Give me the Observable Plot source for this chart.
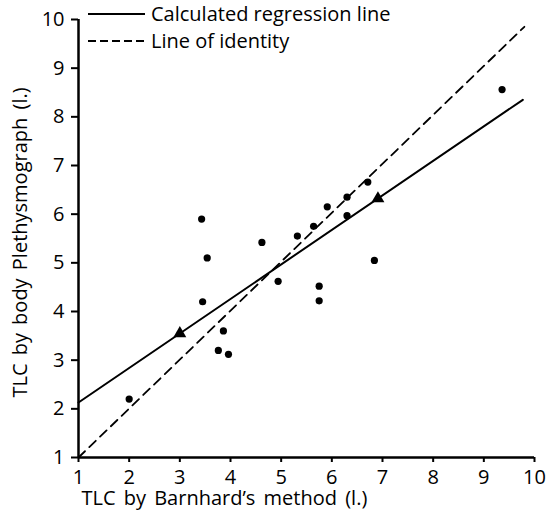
<!DOCTYPE html>
<html><head><meta charset="utf-8">
<script src="https://cdn.jsdelivr.net/npm/d3@7"></script>
<script src="https://cdn.jsdelivr.net/npm/@observablehq/plot@0.6"></script>
<style>
body{margin:0;background:#fff}
#wrap{position:relative;width:556px;height:510px}
#legend{position:absolute;left:0;top:0}
.xl{word-spacing:3px}
.yl{word-spacing:3px}
</style>
</head><body><div id="wrap"></div>
<script>
// Observed points (TLC by Barnhard's method vs. body plethysmograph, litres)
const barnhard = [2.0, 3.43, 3.54, 3.45, 3.86, 3.76, 3.96, 4.62, 4.94, 5.32, 5.64, 5.91, 6.30, 6.30, 6.71, 5.75, 5.75, 6.84, 9.36];
const pleth    = [2.2, 5.90, 5.10, 4.20, 3.60, 3.20, 3.12, 5.42, 4.62, 5.55, 5.75, 6.15, 5.97, 6.35, 6.66, 4.52, 4.22, 5.05, 8.56];
// Triangles on the regression line
const triX = [3.0, 6.91];
const triY = [3.55, 6.32];
// Regression line end points
const regX = [1, 9.77];
const regY = [2.13, 8.35];
// Line of identity end points
const idX = [1, 9.8];
const idY = [1, 9.85];
const xTicks = [1, 2, 3, 4, 5, 6, 7, 8, 9, 10];
const yTicks = [1, 2, 3, 4, 5, 6, 7, 8, 9, 10];
const xLabel = "TLC by Barnhard\u2019s method (l.)";
const yLabel = "TLC by body Plethysmograph (l.)";
const legendLabels = ["Calculated regression line", "Line of identity"];

const pts = barnhard.map((x, i) => ({x, y: pleth[i]}));
const tris = triX.map((x, i) => ({x, y: triY[i]}));
const reg = regX.map((x, i) => ({x, y: regY[i]}));
const ident = idX.map((x, i) => ({x, y: idY[i]}));

const FONT = "'Open Sans', sans-serif";
const chart = Plot.plot({
  width: 556, height: 510,
  marginLeft: 78, marginRight: 22, marginTop: 19, marginBottom: 53,
  x: {domain: [1, 10]},
  y: {domain: [1, 10]},
  style: {fontFamily: FONT, fontSize: "20px", color: "#000", background: "#fff", overflow: "visible"},
  marks: [
    Plot.axisX({ticks: xTicks, tickSize: 5, tickFormat: () => "", label: null, strokeWidth: 2}),
    Plot.text(xTicks, {x: d => d, frameAnchor: "bottom", lineAnchor: "middle", textAnchor: "middle", dy: 20, fontSize: 20, text: d => String(d)}),
    Plot.axisY({ticks: yTicks, tickSize: 7, tickPadding: 7, tickFormat: d => String(d), label: null, strokeWidth: 2, fontSize: 20}),
    Plot.ruleY([1], {stroke: "#000", strokeWidth: 2.5}),
    Plot.ruleX([1], {stroke: "#000", strokeWidth: 2.5}),
    Plot.line(ident, {x: "x", y: "y", stroke: "#000", strokeWidth: 1.8, strokeDasharray: "9,6"}),
    Plot.line(reg, {x: "x", y: "y", stroke: "#000", strokeWidth: 2}),
    Plot.dot(pts, {x: "x", y: "y", r: 3.6, fill: "#000", stroke: "none"}),
    Plot.dot(tris, {x: "x", y: "y", symbol: "triangle", r: 4.8, fill: "#000", stroke: "none"}),
    Plot.text([xLabel], {frameAnchor: "bottom-left", textAnchor: "start", lineAnchor: "middle", dx: 3, dy: 41, fontSize: 20, className: "xl"}),
    Plot.text([yLabel], {frameAnchor: "left", textAnchor: "middle", lineAnchor: "middle", rotate: -90, dx: -58, dy: 4, fontSize: 20, className: "yl"})
  ]
});
const wrap = document.getElementById("wrap");
wrap.appendChild(chart);

// Legend overlay (top-left, inside the plotting area)
const ns = "http://www.w3.org/2000/svg";
const lg = document.createElementNS(ns, "svg");
lg.setAttribute("id", "legend");
lg.setAttribute("width", 440); lg.setAttribute("height", 60);
const rows = [{y: 14, dash: null}, {y: 41, dash: "8,4"}];
rows.forEach((r, i) => {
  const ln = document.createElementNS(ns, "line");
  ln.setAttribute("x1", 88); ln.setAttribute("x2", 145);
  ln.setAttribute("y1", r.y); ln.setAttribute("y2", r.y);
  ln.setAttribute("stroke", "#000"); ln.setAttribute("stroke-width", 2);
  if (r.dash) ln.setAttribute("stroke-dasharray", r.dash);
  lg.appendChild(ln);
  const t = document.createElementNS(ns, "text");
  t.setAttribute("x", 151); t.setAttribute("y", r.y);
  t.setAttribute("dy", "0.35em");
  t.setAttribute("font-family", FONT); t.setAttribute("font-size", 20);
  t.textContent = legendLabels[i];
  lg.appendChild(t);
});
wrap.appendChild(lg);
</script>
</body></html>
